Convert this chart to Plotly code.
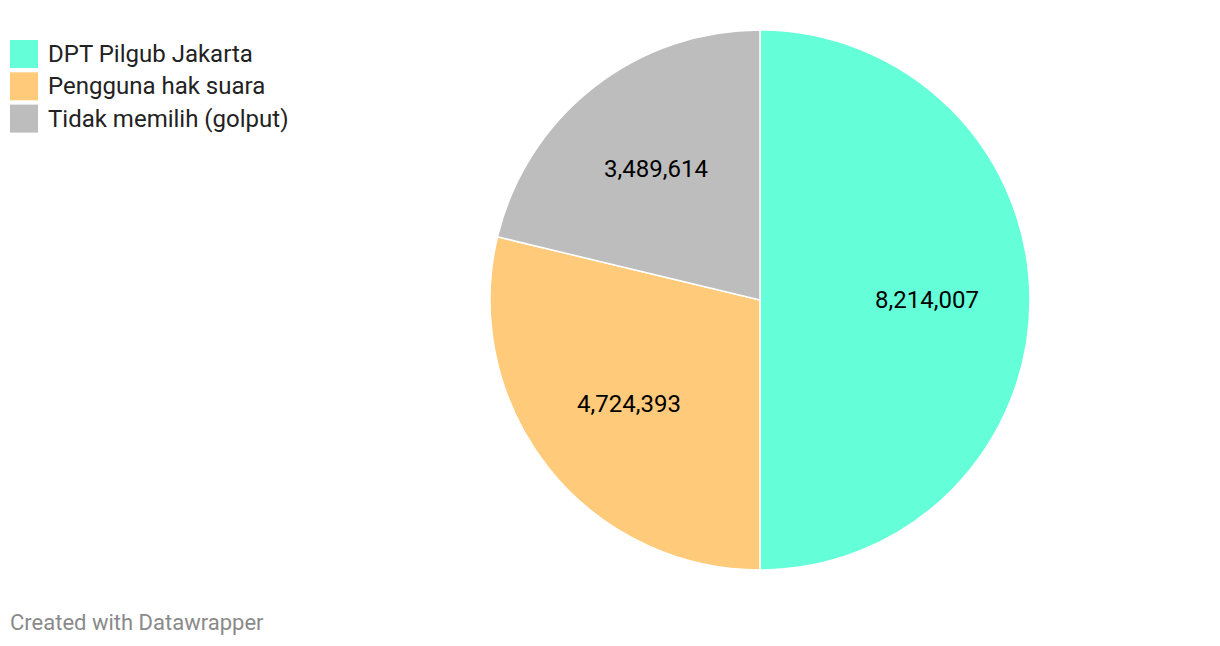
import math
import plotly.graph_objects as go

labels = ["DPT Pilgub Jakarta", "Pengguna hak suara", "Tidak memilih (golput)"]
values = [8214007, 4724393, 3489614]
colors = ["#64FFD8", "#FFCA7A", "#BDBDBD"]

W, H = 1220, 646
cx, cy, r = 760, 300, 270

fig = go.Figure()
fig.add_trace(go.Pie(
    labels=labels, values=values, sort=False, direction="clockwise", rotation=0,
    marker=dict(colors=colors, line=dict(color="white", width=1.5)),
    textinfo="none", hoverinfo="label+value", showlegend=False,
    domain=dict(x=[(cx - r) / W, (cx + r) / W], y=[1 - (cy + r) / H, 1 - (cy - r) / H]),
))

shapes, annotations = [], []
# slice value labels, at mid-angle of each slice
total = sum(values)
start = 0.0
for v in values:
    mid = (start + v / 2) / total * 2 * math.pi
    start += v
    lx = cx + 0.62 * r * math.sin(mid)
    ly = cy - 0.62 * r * math.cos(mid)
    annotations.append(dict(text=f"{v:,}", xref="paper", yref="paper", x=lx / W, y=1 - ly / H,
                            xanchor="center", yanchor="middle", showarrow=False,
                            font=dict(family="Roboto", size=24, color="black")))

for i, (lab, col) in enumerate(zip(labels, colors)):
    top = 40 + i * 32.3
    shapes.append(dict(type="rect", xref="paper", yref="paper",
                       x0=10 / W, x1=38 / W, y0=1 - (top + 28) / H, y1=1 - top / H,
                       fillcolor=col, line=dict(width=0)))
    annotations.append(dict(text=lab, xref="paper", yref="paper", x=46 / W, y=1 - (top + 14) / H,
                            xanchor="left", yanchor="middle", showarrow=False,
                            font=dict(family="Roboto", size=24, color="#222")))
annotations.append(dict(text="Created with Datawrapper", xref="paper", yref="paper",
                        x=8 / W, y=1 - 622 / H, xanchor="left", yanchor="middle", showarrow=False,
                        font=dict(family="Roboto", size=22, color="#8a8a8a")))

fig.update_layout(width=W, height=H, margin=dict(l=0, r=0, t=0, b=0),
                  paper_bgcolor="white", plot_bgcolor="white",
                  shapes=shapes, annotations=annotations)
fig.write_html("out.html", config={"displayModeBar": False},
               post_script="document.body.style.margin='0';")
